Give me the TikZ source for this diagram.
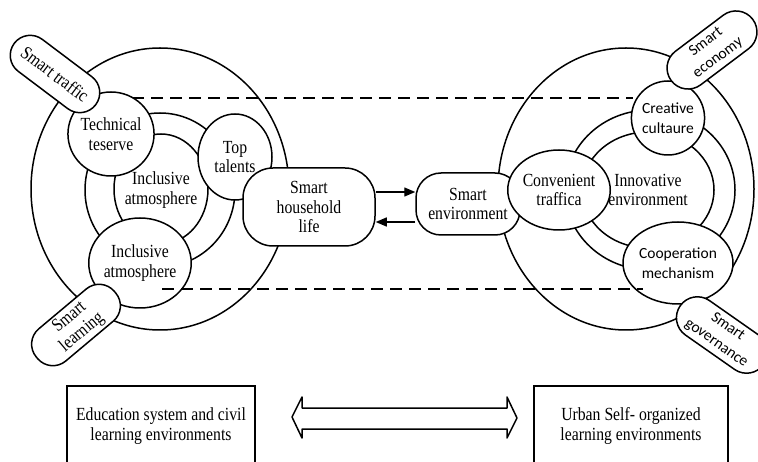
\documentclass[tikz,border=0pt]{standalone}
\usepackage{fontspec}
\newfontfamily\serf[FakeStretch=0.85]{Liberation Serif}
\newfontfamily\sanf{Carlito}
\usetikzlibrary{shapes.geometric,arrows.meta}
\begin{document}
\begin{tikzpicture}[x=1pt,y=-1pt,
  ln/.style={line width=1.5pt},
  sertxt/.style={align=center,inner sep=0pt,font=\serf\fontsize{18.5}{19.5}\selectfont},
  santxt/.style={align=center,inner sep=0pt,font=\sanf\fontsize{15.5}{20}\selectfont},
  circ/.style={ellipse,draw,ln,fill=white,sertxt},
  circs/.style={ellipse,draw,ln,fill=white,santxt},
  rbox/.style={draw,ln,fill=white,sertxt},
  pill/.style={draw,ln,fill=white,rounded corners=20pt,minimum width=102pt,minimum height=40pt,sertxt},
  pills/.style={draw,ln,fill=white,rounded corners=21pt,minimum width=102pt,minimum height=42pt,santxt},
  dsh/.style={line width=1.3pt,dash pattern=on 12pt off 7pt},
  arr/.style={line width=1.3pt,-{Triangle[length=11pt,width=9pt]}},
  lbox/.style={draw,ln,minimum height=80pt,sertxt}
]
\path[use as bounding box,clip] (0,0) rectangle (758,462);
\fill[white] (0,0) rectangle (758,462);
% left rings
\draw[ln] (160,189) ellipse [x radius=129pt, y radius=141pt];
\draw[ln] (160,190) ellipse [x radius=75pt, y radius=77pt];
\draw[ln] (161,189) ellipse [x radius=47pt, y radius=55pt];
% right rings
\draw[ln] (626,189) ellipse [x radius=128pt, y radius=141pt];
\draw[ln] (650,190) ellipse [x radius=85pt, y radius=80pt];
\draw[ln] (648,190) ellipse [x radius=66pt, y radius=58pt];
% top dashed line
\coordinate (dt1) at (132,98);
\coordinate (dt2) at (633,98);
\draw[dsh] (dt1) -- (dt2);
% left nodes
\node[circ,minimum width=74pt,minimum height=84pt] (tech) at (111,134) {Technical\\teserve};
\node[circ,minimum width=74pt,minimum height=86pt] (top) at (235,157) {Top\\talents};
\node[sertxt] (incl) at (161,190) {Inclusive\\atmosphere};
\node[circ,minimum width=94pt,minimum height=90pt] (inclb) at (140,263) {Inclusive\\atmosphere};
\node[rbox,rounded corners=30pt,minimum width=132pt,minimum height=78pt] (home) at (309,207) {Smart\\household\\life};
% right nodes
\node[rbox,rounded corners=25pt,minimum width=104pt,minimum height=62pt] (env) at (468,204) {Smart\\environment};
\node[circ,minimum width=92pt,minimum height=80pt] (conv) at (559,190) {Convenient\\traffica};
\node[sertxt] (innov) at (648,190) {Innovative\\environment};
\node[circs,minimum width=70pt,minimum height=74pt] (crea) at (668,118) {Creative\\cultaure};
\node[circs,minimum width=88pt,minimum height=82pt] (coop) at (678,263) {Cooperation\\mechanism};
% pills
\node[pill,rotate=-37] (traf) at (55,74) {Smart traffic};
\node[pill,rotate=40,minimum height=42pt] (learn) at (76,325) {Smart\\learning};
\node[pills,rotate=37] (econ) at (712,50) {Smart\\economy};
\node[pills,rotate=-35] (gov) at (722,335) {Smart\\governance};
% bottom dashed line
\coordinate (db1) at (162,289);
\coordinate (db2) at (643,289);
\draw[dsh] (db1) -- (db2);
% arrows between household and environment
\draw[arr] ([yshift=15pt]home.east) -- ([yshift=12pt]env.west);
\draw[arr] ([yshift=-18pt]env.west) -- ([yshift=-15pt]home.east);
% bottom boxes
\node[lbox,minimum width=188pt] (edu) at (161,426) {Education system and civil\\learning environments};
\node[lbox,minimum width=194pt] (urban) at (631,426) {Urban Self- organized\\learning environments};
% double arrow
\draw[ln,fill=white,line join=round] (292,417) -- (302,397) -- (302,408) -- (507,408) -- (507,397) -- (517,418) -- (507,438) -- (507,429) -- (302,429) -- (302,438) -- cycle;
\end{tikzpicture}
\end{document}
